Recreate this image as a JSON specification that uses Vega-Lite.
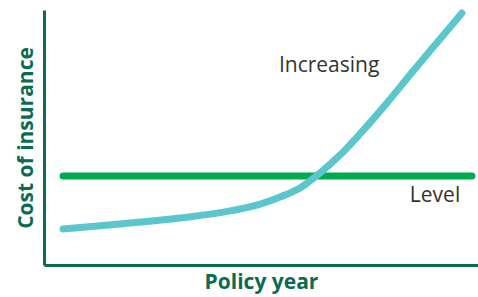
{
  "$schema": "https://vega.github.io/schema/vega-lite/v6.json",
  "width": 434,
  "height": 255,
  "autosize": {"type": "none"},
  "padding": {"left": 44, "top": 10, "right": 0, "bottom": 32},
  "background": "white",
  "config": {
    "view": {"stroke": null},
    "font": "Open Sans"
  },
  "datasets": {
    "curves": [
      {"series": "Level", "x": 4.4, "y": 34.9},
      {"series": "Level", "x": 98.6, "y": 34.9},
      {"series": "Increasing", "x": 4.4, "y": 14.1},
      {"series": "Increasing", "x": 17.5, "y": 16.1},
      {"series": "Increasing", "x": 31.3, "y": 18.4},
      {"series": "Increasing", "x": 42.9, "y": 21.2},
      {"series": "Increasing", "x": 49.8, "y": 23.9},
      {"series": "Increasing", "x": 54.4, "y": 26.7},
      {"series": "Increasing", "x": 59.0, "y": 30.2},
      {"series": "Increasing", "x": 63.6, "y": 36.1},
      {"series": "Increasing", "x": 68.2, "y": 43.1},
      {"series": "Increasing", "x": 72.8, "y": 51.4},
      {"series": "Increasing", "x": 78.6, "y": 62.7},
      {"series": "Increasing", "x": 84.3, "y": 74.5},
      {"series": "Increasing", "x": 90.1, "y": 86.3},
      {"series": "Increasing", "x": 96.3, "y": 98.8}
    ],
    "labels": [
      {"label": "Increasing", "x": 65.7, "y": 78.0},
      {"label": "Level", "x": 90.1, "y": 27.1}
    ]
  },
  "layer": [
    {
      "data": {"name": "curves"},
      "mark": {"type": "line", "strokeWidth": 7, "strokeCap": "round", "interpolate": "monotone"},
      "encoding": {
        "x": {
          "field": "x", "type": "quantitative",
          "scale": {"domain": [0, 100], "nice": false, "zero": false},
          "axis": {
            "title": "Policy year", "labels": false, "ticks": false, "grid": false,
            "domainColor": "#0b6b50", "domainWidth": 3,
            "titleFont": "Open Sans", "titleFontSize": 21, "titleFontWeight": "bold",
            "titleColor": "#0b6b50", "titlePadding": 6
          }
        },
        "y": {
          "field": "y", "type": "quantitative",
          "scale": {"domain": [0, 100], "nice": false, "zero": false},
          "axis": {
            "title": "Cost of insurance", "labels": false, "ticks": false, "grid": false,
            "domainColor": "#0b6b50", "domainWidth": 3,
            "titleFont": "Open Sans", "titleFontSize": 21, "titleFontWeight": "bold",
            "titleColor": "#0b6b50", "titlePadding": 8
          }
        },
        "color": {
          "field": "series", "type": "nominal",
          "scale": {"domain": ["Level", "Increasing"], "range": ["#00ab4e", "#5bc6cb"]},
          "legend": null
        }
      }
    },
    {
      "data": {"name": "labels"},
      "mark": {"type": "text", "font": "Open Sans", "fontSize": 21, "color": "#333333", "align": "center", "baseline": "middle"},
      "encoding": {
        "x": {"field": "x", "type": "quantitative"},
        "y": {"field": "y", "type": "quantitative"},
        "text": {"field": "label"}
      }
    }
  ]
}
